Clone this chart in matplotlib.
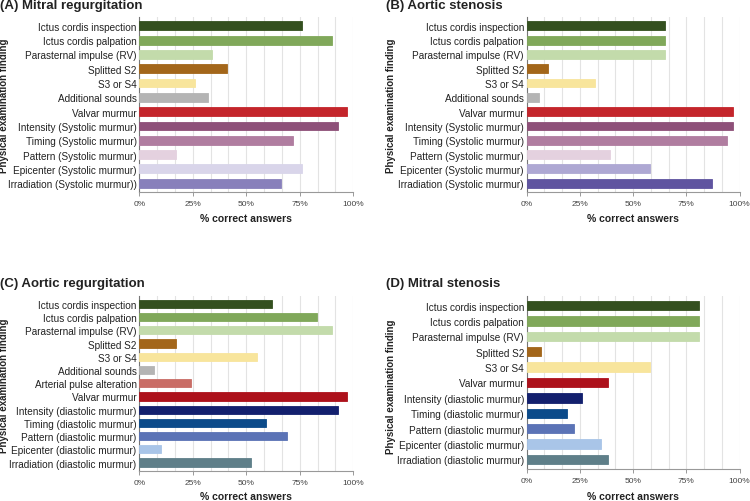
import matplotlib
matplotlib.use("Agg")
import matplotlib.pyplot as plt
import numpy as np

plt.rcParams['font.family'] = ['Liberation Sans Narrow', 'Liberation Sans', 'DejaVu Sans']

# data (percent correct answers)
labels_sys = ['Ictus cordis inspection', 'Ictus cordis palpation', 'Parasternal impulse (RV)',
              'Splitted S2', 'S3 or S4', 'Additional sounds', 'Valvar murmur',
              'Intensity (Systolic murmur)', 'Timing (Systolic murmur)', 'Pattern (Systolic murmur)',
              'Epicenter (Systolic murmur)', 'Irradiation (Systolic murmur)']
labels_a = labels_sys[:-1] + ['Irradiation (Systolic murmur))']
values_a = [76, 90, 34, 41, 26, 32, 97, 93, 72, 17, 76, 66]

labels_b = labels_sys
values_b = [65, 65, 65, 10, 32, 6, 97, 97, 94, 39, 58, 87]

labels_c = ['Ictus cordis inspection', 'Ictus cordis palpation', 'Parasternal impulse (RV)',
            'Splitted S2', 'S3 or S4', 'Additional sounds', 'Arterial pulse alteration',
            'Valvar murmur', 'Intensity (diastolic murmur)', 'Timing (diastolic murmur)',
            'Pattern (diastolic murmur)', 'Epicenter (diastolic murmur)', 'Irradiation (diastolic murmur)']
values_c = [62, 83, 90, 17, 55, 7, 24, 97, 93, 59, 69, 10, 52]

labels_d = ['Ictus cordis inspection', 'Ictus cordis palpation', 'Parasternal impulse (RV)',
            'Splitted S2', 'S3 or S4', 'Valvar murmur', 'Intensity (diastolic murmur)',
            'Timing (diastolic murmur)', 'Pattern (diastolic murmur)', 'Epicenter (diastolic murmur)',
            'Irradiation (diastolic murmur)']
values_d = [81, 81, 81, 6.5, 58, 38, 26, 19, 22, 35, 38]

titles = ['(A) Mitral regurgitation', '(B) Aortic stenosis',
          '(C) Aortic regurgitation', '(D) Mitral stenosis']

# colours
top = ['#34501f', '#80a85a', '#c3dbab', '#a3661a', '#f8e59c']
col_a = top + ['#b4b4b4', '#c4252b', '#8e5079', '#b07da0', '#e4d1df', '#d9d5ea', '#8880bb']
col_b = top + ['#b4b4b4', '#c4252b', '#8e5079', '#b07da0', '#e4d1df', '#aea8d3', '#5f54a0']
col_c = top + ['#b4b4b4', '#c96d66', '#ad111b', '#13206e', '#0c4b8a', '#5b73b6', '#a9c5e8', '#5f7f89']
col_d = top + ['#ad111b', '#13206e', '#0c4b8a', '#5b73b6', '#a9c5e8', '#5f7f89']

W, H = 750, 502
fig = plt.figure(figsize=(W / 100, H / 100), dpi=100)

# (labels, values, colors, axes box in px: left, top, right, bottom, title x,y, ylabel x,y, xlabel y)
panels = [
    (labels_a, values_a, col_a, (139.3, 18, 353.3, 193), (0, 5.5), (4.5, 106), 219),
    (labels_b, values_b, col_b, (526.7, 18, 739.5, 193), (386.5, 5.5), (391, 106), 219),
    (labels_c, values_c, col_c, (139.3, 296.7, 353.3, 471.7), (0, 284.5), (4.5, 386), 497),
    (labels_d, values_d, col_d, (526.7, 297, 739.5, 470), (386.5, 284.5), (391, 387), 497),
]

txt = '#222222'
for i, (labs, vals, cols, box, tpos, ypos, xly) in enumerate(panels):
    l, t, r, b = box
    ax = fig.add_axes([l / W, 1 - b / H, (r - l) / W, (b - t) / H])
    y = np.arange(len(labs))
    ax.barh(y, vals, height=0.62, color=cols, edgecolor=cols, linewidth=0.6, zorder=3)
    ax.set_xlim(0, 100)
    ax.set_ylim(len(labs) - 0.38, -0.62)
    ax.set_yticks(y)
    ax.set_yticklabels(labs, fontsize=7.2, color=txt)
    ax.set_xticks([0, 25, 50, 75, 100])
    ax.set_xticklabels(['0%', '25%', '50%', '75%', '100%'], fontsize=6, color='#444444')
    for g in np.arange(0, 100.01, 100 / 12):
        ax.axvline(g, color='#e3e3e3', linewidth=0.8, zorder=0)
    for s in ['top', 'right']:
        ax.spines[s].set_visible(False)
    ax.spines['left'].set_color('#777777')
    ax.spines['bottom'].set_color('#999999')
    ax.spines['left'].set_linewidth(0.8)
    ax.spines['bottom'].set_linewidth(0.8)
    ax.tick_params(axis='y', length=0, pad=2)
    ax.tick_params(axis='x', length=3, width=0.7, color='#999999', pad=3)

    fig.text(tpos[0] / W, 1 - tpos[1] / H, titles[i], fontsize=9.5, fontweight='bold',
             color=txt, ha='left', va='center')
    fig.text(ypos[0] / W, 1 - ypos[1] / H, 'Physical examination finding', fontsize=7,
             fontweight='bold', color=txt, rotation=90, ha='center', va='center')
    fig.text((l + r) / 2 / W, 1 - xly / H, '% correct answers', fontsize=7.5,
             fontweight='bold', color=txt, ha='center', va='center')

fig.savefig('out.png', dpi=100)
